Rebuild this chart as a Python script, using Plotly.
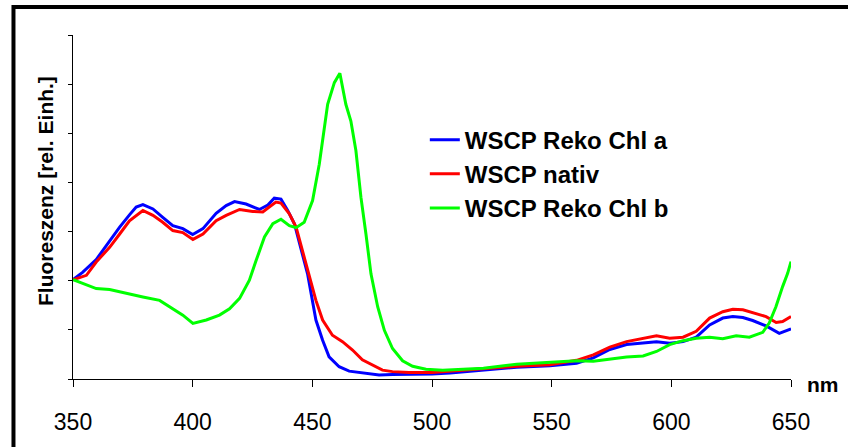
import plotly.graph_objects as go

# Wavelengths (nm) and fluorescence (rel. units)
nm_chl_a = [350, 354, 359.7, 365.3, 369.5, 373.6, 376.4, 379.2, 383.4, 387.5, 391.7, 395.9, 400,
            404.3, 409.8, 414, 417.5, 422.3, 427.9, 431.4, 434.1, 436.9, 439.7, 442.5, 445.2, 448,
            451.5, 454.3, 457, 461.2, 465.4, 469.5, 477.9, 483.5, 500, 507.6, 521.5, 535.4, 549.3,
            560.4, 567.4, 574.3, 581.3, 588.2, 593.8, 599.3, 604.9, 610.4, 616, 621.5, 625.7,
            629.9, 634, 639.6, 645.1, 650]
val_chl_a = [2.02, 2.17, 2.43, 2.81, 3.09, 3.34, 3.50, 3.55, 3.46, 3.29, 3.12, 3.06, 2.94,
             3.06, 3.37, 3.53, 3.61, 3.56, 3.45, 3.54, 3.68, 3.66, 3.43, 3.16, 2.68, 2.14,
             1.20, 0.79, 0.45, 0.25, 0.16, 0.13, 0.08, 0.09, 0.10, 0.12, 0.18, 0.24, 0.27,
             0.32, 0.43, 0.60, 0.70, 0.73, 0.76, 0.73, 0.76, 0.85, 1.10, 1.24, 1.27,
             1.25, 1.19, 1.08, 0.93, 1.02]

nm_nativ = [350, 355.6, 359.7, 365.3, 369.5, 373.6, 379.2, 383.4, 387.5, 391.7, 395.9, 400.1,
            404.3, 409.8, 414, 419.6, 425.1, 429.3, 432, 434.8, 436.9, 440.4, 443.2, 445.9,
            448.7, 451.5, 454.3, 458.4, 462.6, 466.8, 470.9, 475.1, 479.3, 483.5, 490.4, 500,
            507.6, 521.5, 535.4, 549.3, 560.4, 567.4, 574.3, 581.3, 588.2, 593.8, 599.3, 604.9,
            610.4, 616, 621.5, 625.7, 629.9, 634, 639.6, 643.8, 646.5, 650]
val_nativ = [2.02, 2.11, 2.38, 2.68, 2.95, 3.22, 3.43, 3.33, 3.19, 3.02, 2.98, 2.84,
             2.95, 3.22, 3.33, 3.45, 3.41, 3.40, 3.50, 3.60, 3.58, 3.36, 3.09, 2.62,
             2.08, 1.60, 1.20, 0.89, 0.76, 0.59, 0.39, 0.28, 0.18, 0.15, 0.13, 0.13,
             0.16, 0.20, 0.26, 0.29, 0.38, 0.49, 0.65, 0.76, 0.83, 0.88, 0.83, 0.85,
             0.97, 1.24, 1.37, 1.42, 1.41, 1.35, 1.27, 1.15, 1.17, 1.27]

nm_chl_b = [350, 355.6, 359.7, 365.3, 372.3, 379.2, 386.2, 391.7, 395.9, 400.1, 405.7, 411.2,
            415.4, 419.6, 423.7, 426.5, 430, 433.5, 436.9, 440.4, 443.2, 446.6, 450.1, 452.9,
            456.4, 459.2, 461.5, 464, 466.1, 468.2, 470.3, 472.4, 474.5, 477.3, 480.1, 483.5,
            487.7, 491.9, 497.5, 504.5, 507.6, 521.5, 535.4, 549.3, 560.4, 567.4, 574.3, 581.3,
            588.2, 593.8, 599.3, 604.9, 610.4, 616, 621.5, 627.1, 632.6, 638.2, 640.9, 643.7,
            646.5, 648.6, 650]
val_chl_b = [2.02, 1.91, 1.84, 1.82, 1.74, 1.67, 1.60, 1.43, 1.30, 1.13, 1.20, 1.30,
             1.43, 1.64, 2.01, 2.41, 2.89, 3.16, 3.25, 3.12, 3.08, 3.19, 3.63, 4.37,
             5.59, 6.03, 6.22, 5.59, 5.25, 4.65, 3.70, 2.95, 2.14, 1.47, 0.99, 0.62,
             0.37, 0.26, 0.20, 0.18, 0.19, 0.22, 0.30, 0.34, 0.37, 0.36, 0.41, 0.45,
             0.47, 0.56, 0.70, 0.78, 0.83, 0.85, 0.82, 0.88, 0.85, 0.95, 1.14, 1.47,
             1.88, 2.15, 2.39]

x_ticks = [350, 400, 450, 500, 550, 600, 650]
series_names = ["WSCP Reko Chl a", "WSCP nativ", "WSCP Reko Chl b"]
series_colors = ["#0000FF", "#FF0000", "#00FF00"]

FONT = "Liberation Sans, Arial, sans-serif"

fig = go.Figure()
for name, xs, ys, col in zip(series_names,
                             [nm_chl_a, nm_nativ, nm_chl_b],
                             [val_chl_a, val_nativ, val_chl_b],
                             series_colors):
    fig.add_trace(go.Scatter(x=xs, y=ys, mode="lines", name=name, legendgroup=name,
                             line=dict(color=col, width=3)))

fig.update_layout(
    width=848, height=447,
    margin=dict(l=73, r=57, t=35, b=68),
    paper_bgcolor="white", plot_bgcolor="white",
    font=dict(family=FONT, color="black"),
    showlegend=True,
    legend=dict(x=0.490, y=0.76, xanchor="left", yanchor="top",
                font=dict(family=FONT, size=24, color="black", weight="bold"),
                tracegroupgap=0, itemwidth=30, bgcolor="rgba(0,0,0,0)"),
    xaxis=dict(range=[350, 650], tickvals=x_ticks, ticktext=[str(t) for t in x_ticks],
               showgrid=False, zeroline=False, showline=True, linecolor="black",
               linewidth=1, ticks="outside", ticklen=7, tickcolor="black",
               ticklabelstandoff=15,
               tickfont=dict(size=23, family=FONT, color="black")),
    yaxis=dict(range=[0, 7], dtick=1, tick0=0, showgrid=False, zeroline=False,
               showline=True, linecolor="black", linewidth=1, ticks="outside",
               ticklen=4, tickcolor="black", showticklabels=False),
    annotations=[
        dict(text="Fluoreszenz [rel. Einh.]", xref="paper", yref="paper",
             x=-0.039, y=0.5465, textangle=-90, showarrow=False,
             xanchor="center", yanchor="middle",
             font=dict(size=21, family=FONT, color="black", weight="bold")),
        dict(text="nm", xref="paper", yref="paper", x=1.0195, y=-0.017,
             showarrow=False, xanchor="left", yanchor="middle",
             font=dict(size=21, family=FONT, color="black", weight="bold")),
    ],
    shapes=[
        dict(type="rect", xref="paper", yref="paper", x0=-0.0829, y0=-0.3,
             x1=1.15, y1=1.0814, line=dict(color="black", width=4), layer="below"),
    ],
)

fig.write_html("out.html")
